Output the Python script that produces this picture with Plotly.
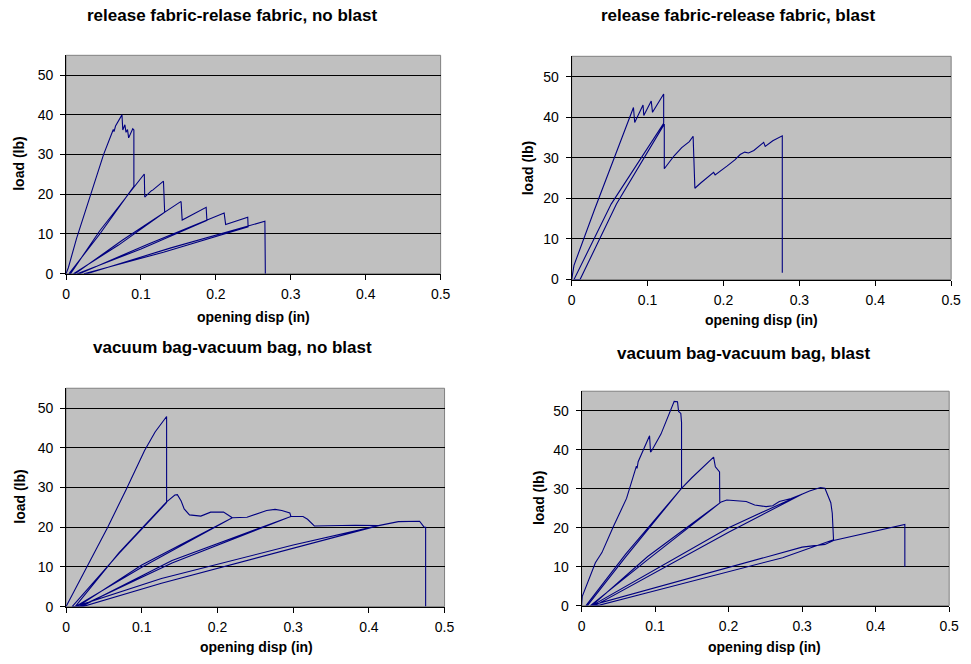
import plotly.graph_objects as go

W, H = 971, 664

# ---------------- data ----------------
# Panel 1: release fabric - relase fabric, no blast
rf_nb_x = [0, 0.003, 0.014, 0.032, 0.050, 0.063, 0.064, 0.066, 0.0746, 0.0757, 0.0785, 0.080, 0.082, 0.0835, 0.089, 0.0905, 0.0905,
           0.045, 0.004,
           0.006, 0.045, 0.1044, 0.105, 0.114, 0.116, 0.130, 0.1316,
           0.070, 0.010,
           0.012, 0.075, 0.1535, 0.155, 0.187, 0.188,
           0.100, 0.015,
           0.018, 0.110, 0.211, 0.213, 0.2425, 0.243,
           0.130, 0.024,
           0.028, 0.140, 0.2654, 0.266]
rf_nb_y = [0, 1.5, 8.9, 19.6, 30, 36.3, 35.8, 37.2, 40, 36.2, 37.5, 35.6, 36.3, 34.2, 36.5, 36.2, 22,
           10.0, 0,
           0, 10.8, 25.1, 19.3, 20.9, 21.1, 23.3, 15.5,
           7.2, 0,
           0, 8.4, 18.2, 13.5, 16.7, 13.4,
           6.2, 0,
           0, 7.5, 15.3, 12.4, 14.2, 11.8,
           5.4, 0,
           0, 6.5, 13.2, 0]

# Panel 2: release fabric - release fabric, blast
rf_b_x = [0, 0.0015, 0.003, 0.030, 0.056, 0.0814, 0.083, 0.094, 0.095, 0.1048, 0.1065, 0.1212, 0.1212,
          0.052, 0.003,
          0.011, 0.059, 0.122, 0.122,
          0.126, 0.135, 0.145, 0.155, 0.160, 0.1623, 0.170, 0.180, 0.185, 0.187, 0.189, 0.195, 0.205,
          0.215, 0.222, 0.228, 0.233, 0.240, 0.253, 0.255, 0.265, 0.2775, 0.2775]
rf_b_y = [0, 2.5, 3.5, 17.2, 30, 42.4, 38.7, 43, 40.4, 44, 41.2, 45.7, 38.5,
          18.6, 0,
          0, 18.6, 38.3, 27.3,
          28.3, 30.5, 32.5, 34, 35.3, 22.5, 23.8, 25.2, 26.0, 26.4, 25.8, 26.6, 28,
          29.5, 30.8, 31.4, 31.2, 31.8, 33.8, 32.8, 34.2, 35.4, 1.7]

# Panel 3: vacuum bag - vacuum bag, no blast
vb_nb_x = [0, 0.020, 0.055, 0.0794, 0.1037, 0.1176, 0.1328, 0.1328,
           0.070, 0.008,
           0.012, 0.070, 0.1328, 0.1437, 0.147, 0.152, 0.156, 0.163, 0.178, 0.191, 0.208, 0.213, 0.2196,
           0.100, 0.012,
           0.015, 0.100, 0.2196, 0.239, 0.265, 0.276, 0.285, 0.2956, 0.297,
           0.140, 0.018,
           0.020, 0.140, 0.297, 0.313, 0.319, 0.328, 0.356, 0.382, 0.4127,
           0.300, 0.126, 0.022,
           0.012, 0.126, 0.300, 0.4127, 0.439, 0.467, 0.473, 0.475, 0.475]
vb_nb_y = [0, 7.2, 20, 29.5, 39.3, 44, 47.9, 26.2,
           13.4, 0,
           0, 13.6, 26.4, 28.1, 28.2, 26.6, 24.6, 23.1, 22.8, 23.8, 23.8, 23.2, 22.4,
           9.9, 0,
           0, 10.5, 22.4, 22.5, 24.2, 24.5, 24.2, 23.6, 22.7,
           11.0, 0,
           0, 11.6, 22.7, 22.7, 22.0, 20.3, 20.5, 20.5, 20.4,
           14.7, 5.9, 0,
           0, 7.1, 15.5, 20.4, 21.4, 21.5, 20.0, 20.0, 0]

# Panel 4: vacuum bag - vacuum bag, blast
vb_b_x = [0, 0.001, 0.0188, 0.0277, 0.0433, 0.0612, 0.0746, 0.0755, 0.077, 0.090, 0.0925, 0.0938, 0.095, 0.108,
          0.126, 0.1305, 0.132, 0.135, 0.136, 0.136,
          0.060, 0.008,
          0.006, 0.060, 0.136, 0.150, 0.165, 0.1796, 0.182, 0.1854, 0.1877, 0.188,
          0.090, 0.012,
          0.014, 0.090, 0.190, 0.1975, 0.2064, 0.224, 0.2355, 0.251, 0.260, 0.269, 0.285, 0.2997,
          0.200, 0.018,
          0.014, 0.200, 0.2997, 0.310, 0.325, 0.331, 0.339, 0.341, 0.3427,
          0.2735, 0.100, 0.022,
          0.012, 0.100, 0.2735, 0.300, 0.331, 0.3427, 0.4397, 0.4397]
vb_b_y = [0, 2.4, 11, 13.6, 20.3, 27.5, 35.8, 35.2, 36.9, 42.4, 43.6, 39.4, 39.6, 44,
          52.4, 52.3, 49.8, 49.3, 47, 30.1,
          12.5, 0,
          0, 13.2, 30.1, 32.8, 35.5, 38.1, 35.6, 34.7, 34.3, 26.3,
          11.8, 0,
          0, 12.6, 26.6, 27.1, 27.0, 26.7, 25.8, 25.4, 25.6, 26.7, 27.5, 28.6,
          18.8, 0,
          0, 20.0, 28.6, 29.4, 30.3, 30.1, 26.4, 23.7, 16.9,
          12.3, 3.8, 0,
          0, 4.6, 13.7, 15.0, 15.7, 16.7, 20.8, 10.0]

titles = ["release fabric-relase fabric, no blast", "release fabric-release fabric, blast",
          "vacuum bag-vacuum bag, no blast", "vacuum bag-vacuum bag, blast"]
x_label = "opening disp (in)"
y_label = "load (lb)"
x_ticks = [0, 0.1, 0.2, 0.3, 0.4, 0.5]
x_ticktext = ["0", "0.1", "0.2", "0.3", "0.4", "0.5"]
y_ticks = [0, 10, 20, 30, 40, 50]

# ---------------- layout geometry (pixels) ----------------
panels = [
    dict(x0=63, x1=443, y0=56, y1=277, title=(231, 16), xt=(253, 321), yt=(15, 166)),
    dict(x0=576, x1=961, y0=57, y1=283, title=(745, 16), xt=(769, 324), yt=(532, 170)),
    dict(x0=63, x1=447, y0=393, y1=614, title=(232, 352), xt=(256, 655), yt=(16, 503)),
    dict(x0=586, x1=959, y0=396, y1=613, title=(751, 358), xt=(772, 655), yt=(543, 504)),
]
series = [(rf_nb_x, rf_nb_y), (rf_b_x, rf_b_y), (vb_nb_x, vb_nb_y), (vb_b_x, vb_b_y)]

FONT = "Liberation Sans, Arial, sans-serif"
LINE = "#000080"

fig = go.Figure()
annotations = []
shapes = []
layout = {}
for i, (p, (xs, ys)) in enumerate(zip(panels, series)):
    n = "" if i == 0 else str(i + 1)
    xa, ya = "x" + n, "y" + n
    fig.add_trace(go.Scatter(x=xs, y=ys, mode="lines", xaxis=xa, yaxis=ya,
                             line=dict(color=LINE, width=1.1), showlegend=False,
                             hoverinfo="skip"))
    layout["xaxis" + n] = dict(
        domain=[p["x0"] / W, p["x1"] / W], anchor=ya, range=[0, 0.5],
        tickvals=x_ticks, ticktext=x_ticktext, ticks="outside", ticklen=5,
        tickcolor="#000", showgrid=False, zeroline=False, showline=True,
        linecolor="#000", linewidth=1, fixedrange=True, ticklabelstandoff=3,
        tickfont=dict(family=FONT, size=14, color="#000"))
    layout["yaxis" + n] = dict(
        domain=[1 - p["y1"] / H, 1 - p["y0"] / H], anchor=xa, range=[0, 55],
        tickvals=y_ticks, ticks="outside", ticklen=5, tickcolor="#000",
        showgrid=True, gridcolor="#000", gridwidth=1, zeroline=False,
        showline=True, linecolor="#000", linewidth=1, fixedrange=True, ticklabelstandoff=4,
        tickfont=dict(family=FONT, size=14, color="#000"))
    shapes.append(dict(type="rect", xref=xa + " domain", yref=ya + " domain",
                       x0=0, x1=1, y0=0, y1=1, line=dict(color="#808080", width=1),
                       fillcolor="#C0C0C0", layer="below"))
    annotations.append(dict(text="<b>%s</b>" % titles[i], x=p["title"][0] / W, y=1 - p["title"][1] / H,
                            xref="paper", yref="paper", showarrow=False, xanchor="center", yanchor="middle",
                            font=dict(family=FONT, size=17, color="#000")))
    annotations.append(dict(text="<b>%s</b>" % x_label, x=p["xt"][0] / W, y=1 - p["xt"][1] / H,
                            xref="paper", yref="paper", showarrow=False, xanchor="center", yanchor="middle",
                            font=dict(family=FONT, size=14, color="#000")))
    annotations.append(dict(text="<b>%s</b>" % y_label, x=p["yt"][0] / W, y=1 - p["yt"][1] / H,
                            xref="paper", yref="paper", showarrow=False, xanchor="center", yanchor="middle",
                            textangle=-90, font=dict(family=FONT, size=14, color="#000")))

fig.update_layout(width=W, height=H, margin=dict(l=0, r=0, t=0, b=0),
                  paper_bgcolor="white", plot_bgcolor="rgba(0,0,0,0)",
                  annotations=annotations, shapes=shapes, **layout)
fig.write_html("out.html", config={"displayModeBar": False})
